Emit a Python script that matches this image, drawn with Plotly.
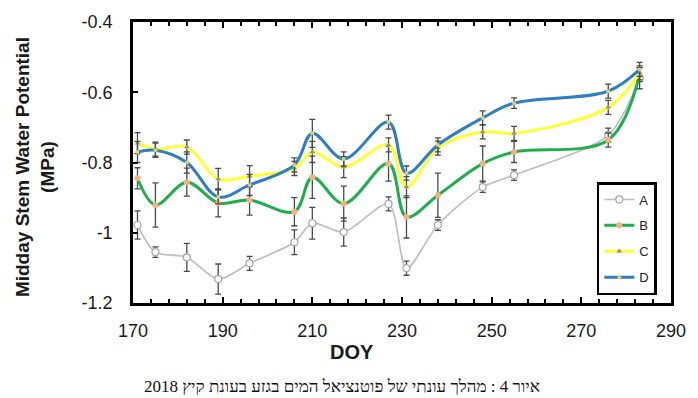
import plotly.graph_objects as go

# ---- data ----
doy = [171, 175, 182, 189, 196, 206, 210, 217, 227, 231, 238, 248, 255, 276, 283]

A = [-0.978, -1.055, -1.070, -1.132, -1.087, -1.027, -0.973, -0.998, -0.918, -1.101, -0.978, -0.870, -0.836, -0.722, -0.560]
A_err = [0.040, 0.015, 0.040, 0.043, 0.020, 0.035, 0.045, 0.040, 0.020, 0.020, 0.015, 0.015, 0.015, 0.020, 0.030]

B = [-0.845, -0.921, -0.856, -0.915, -0.907, -0.940, -0.842, -0.917, -0.803, -0.955, -0.893, -0.803, -0.770, -0.736, -0.550]
B_err = [0.030, 0.063, 0.040, 0.040, 0.043, 0.040, 0.060, 0.050, 0.050, 0.060, 0.063, 0.050, 0.030, 0.020, 0.020]

C = [-0.745, -0.762, -0.756, -0.847, -0.839, -0.817, -0.770, -0.813, -0.750, -0.870, -0.759, -0.713, -0.717, -0.643, -0.545]
C_err = [0.030, 0.020, 0.020, 0.030, 0.030, 0.020, 0.030, 0.030, 0.020, 0.030, 0.020, 0.020, 0.020, 0.020, 0.020]

D = [-0.770, -0.765, -0.800, -0.898, -0.864, -0.807, -0.717, -0.790, -0.685, -0.830, -0.750, -0.673, -0.631, -0.597, -0.535]
D_err = [0.030, 0.020, 0.030, 0.020, 0.030, 0.020, 0.040, 0.020, 0.020, 0.020, 0.020, 0.020, 0.015, 0.020, 0.020]

names = ["A", "B", "C", "D"]
x_ticks = [170, 190, 210, 230, 250, 270, 290]
y_ticks = [-1.2, -1.0, -0.8, -0.6, -0.4]
y_tick_text = ["-1.2", "-1", "-0.8", "-0.6", "-0.4"]

title_y = "Midday Stem Water Potential<br>(MPa)"
title_x = "DOY"
caption = "איור 4 : מהלך עונתי של פוטנציאל המים בגזע בעונת קיץ 2018"

# ---- styling ----
W, H = 698, 398
L, R, T, B_ = 133, 21, 22, 95
pw, ph = W - L - R, H - T - B_

def px_x(p):
    return (p - L) / pw

def px_y(p):
    return (H - B_ - p) / ph

FONT = "Arial, Liberation Sans, sans-serif"
err_style = dict(type="data", thickness=1.3, width=3, color="#4a4a4a")

styles = {
    "A": dict(line=dict(color="#BDBDBD", width=1.6, shape="spline", smoothing=0.8),
              marker=dict(symbol="circle", size=7, color="white", line=dict(color="#A6A6A6", width=1.2))),
    "B": dict(line=dict(color="#1FAE4B", width=3, shape="spline", smoothing=1),
              marker=dict(symbol="circle", size=6, color="#F4B183", line=dict(width=0))),
    "C": dict(line=dict(color="#FFFF33", width=3, shape="spline", smoothing=1),
              marker=dict(symbol="triangle-up", size=5, color="#8C8C8C", line=dict(width=0))),
    "D": dict(line=dict(color="#2E7EC4", width=3, shape="spline", smoothing=1),
              marker=dict(symbol="circle", size=4, color="#D8D36B", line=dict(width=0))),
}

series = {"A": (A, A_err), "B": (B, B_err), "C": (C, C_err), "D": (D, D_err)}

fig = go.Figure()
for n in names:
    ys, es = series[n]
    fig.add_trace(go.Scatter(
        x=doy, y=ys, name=n, mode="lines+markers", legendgroup=n,
        error_y=dict(array=es, **err_style),
        **styles[n],
    ))

axis_common = dict(showgrid=False, zeroline=False, showline=True, linecolor="black",
                   linewidth=2.5, ticks="inside", tickcolor="black", tickwidth=2,
                   tickfont=dict(family=FONT, size=18, color="#1a1a1a"))

fig.update_xaxes(range=[170, 290], tickvals=x_ticks, ticklen=6, mirror="ticks",
                 minor=dict(dtick=4, tick0=170, ticks="inside", ticklen=4, tickcolor="black", tickwidth=1.5),
                 ticklabelstandoff=10, **axis_common)
fig.update_yaxes(range=[-1.2, -0.4], tickvals=y_ticks, ticktext=y_tick_text, ticklen=5,
                 mirror=True, ticklabelstandoff=14, **axis_common)

fig.update_layout(
    width=W, height=H,
    margin=dict(l=L, r=R, t=T, b=B_),
    plot_bgcolor="white", paper_bgcolor="white",
    showlegend=True,
    legend=dict(x=px_x(602), y=px_y(182), xanchor="left", yanchor="top",
                bordercolor="black", borderwidth=2.5, bgcolor="white",
                font=dict(family=FONT, size=13, color="#222"),
                tracegroupgap=6, itemwidth=30),
    annotations=[
        dict(text="<b>" + title_y + "</b>", xref="paper", yref="paper",
             x=px_x(34), y=px_y(167), textangle=-90, showarrow=False,
             xanchor="center", yanchor="middle",
             font=dict(family=FONT, size=19, color="#1a1a1a")),
        dict(text="<b>" + title_x + "</b>", xref="paper", yref="paper",
             x=px_x(354), y=px_y(352), showarrow=False, xanchor="center", yanchor="middle",
             font=dict(family=FONT, size=20, color="#1a1a1a")),
        dict(text=caption, xref="paper", yref="paper",
             x=px_x(344), y=px_y(386), showarrow=False, xanchor="center", yanchor="middle",
             font=dict(family="Liberation Serif, DejaVu Serif, serif", size=17, color="#111")),
    ],
)

fig.write_html("out.html", config={"displayModeBar": False},
               post_script="document.body.style.margin='0';")
